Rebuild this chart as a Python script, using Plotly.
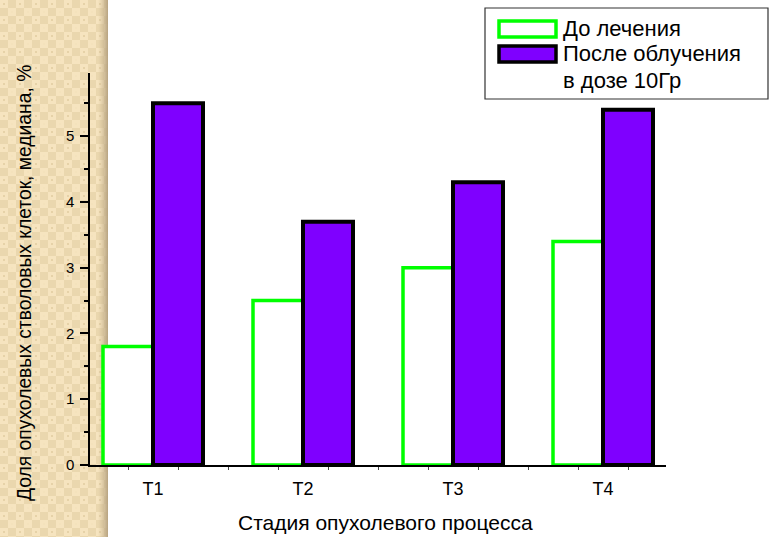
import base64
import plotly.graph_objects as go

# ---- data ----
categories = ["T1", "T2", "T3", "T4"]
before_treatment = [1.8, 2.5, 3.0, 3.4]
after_irradiation = [5.5, 3.7, 4.3, 5.4]
series_names = ["До лечения", "После облучения<br>в дозе 10Гр"]
y_ticks = [0, 1, 2, 3, 4, 5]
x_title = "Стадия опухолевого процесса"
y_title = "Доля опухолевых стволовых клеток, медиана, %"

# ---- geometry helpers (pixel -> paper) ----
W, H = 769, 537
L, R, T, B = 90, 103, 73, 72
PW, PH = W - L - R, H - T - B


def px(x):
    return (x - L) / PW


def py(y):
    return (H - B - y) / PH


GREEN = "#00ff00"
PURPLE = "#7f00ff"
FONT = "Liberation Sans, Arial, sans-serif"

xs = list(range(len(categories)))

fig = go.Figure()
fig.add_trace(go.Bar(
    x=xs, y=before_treatment, name=series_names[0],
    marker=dict(color="white", line=dict(color=GREEN, width=3.5)),
    showlegend=False,
))
fig.add_trace(go.Bar(
    x=xs, y=after_irradiation, name=series_names[1],
    marker=dict(color=PURPLE, line=dict(color="black", width=4)),
    showlegend=False,
))

# textured left strip as an inline SVG image
svg = f"""<svg xmlns='http://www.w3.org/2000/svg' width='108' height='{H}'>
<defs>
<pattern id='p' width='16' height='16' patternUnits='userSpaceOnUse'>
<rect width='16' height='16' fill='#f6e4bf'/>
<rect x='8' width='8' height='8' fill='#ead7ae'/>
<rect y='8' width='8' height='8' fill='#ead7ae'/>
<rect x='3' y='3' width='2' height='2' fill='#e6d2a8'/>
<rect x='11' y='11' width='2' height='2' fill='#f4e2bc'/>
</pattern>
<linearGradient id='g' x1='0' x2='1' y1='0' y2='0'>
<stop offset='0' stop-color='#cdb993' stop-opacity='0'/>
<stop offset='1' stop-color='#b7a381'/>
</linearGradient>
</defs>
<rect width='108' height='{H}' fill='url(#p)'/>
<rect x='98' width='10' height='{H}' fill='url(#g)'/>
</svg>"""
src = "data:image/svg+xml;base64," + base64.b64encode(svg.encode()).decode()
fig.add_layout_image(dict(
    source=src, xref="paper", yref="paper",
    x=px(0), y=py(0), sizex=px(108) - px(0), sizey=py(0) - py(H),
    xanchor="left", yanchor="top", sizing="stretch", layer="below",
))

shapes = []
annotations = []

# legend box (drawn manually to match the wide swatches)
shapes.append(dict(type="rect", xref="paper", yref="paper",
                   x0=px(485), x1=px(768), y0=py(99), y1=py(8),
                   line=dict(color="#333333", width=1.2), fillcolor="white"))
shapes.append(dict(type="rect", xref="paper", yref="paper",
                   x0=px(499), x1=px(556), y0=py(37), y1=py(21),
                   line=dict(color=GREEN, width=3.5), fillcolor="white"))
shapes.append(dict(type="rect", xref="paper", yref="paper",
                   x0=px(499), x1=px(556), y0=py(62), y1=py(46),
                   line=dict(color="black", width=3.5), fillcolor=PURPLE))
legend_lines = [series_names[0]] + series_names[1].split("<br>")
for line_text, yc in zip(legend_lines, [29, 54, 80]):
    annotations.append(dict(text=line_text, xref="paper", yref="paper",
                            x=px(561), y=py(yc), xanchor="left", yanchor="middle",
                            showarrow=False,
                            font=dict(family=FONT, size=22, color="black")))

# axis titles
annotations.append(dict(text=x_title, xref="paper", yref="paper",
                        x=px(385), y=py(522), xanchor="center", yanchor="middle",
                        showarrow=False, font=dict(family=FONT, size=21, color="black")))
annotations.append(dict(text=y_title, xref="paper", yref="paper",
                        x=px(24), y=py(283), xanchor="center", yanchor="middle",
                        textangle=-90, showarrow=False,
                        font=dict(family=FONT, size=19.3, color="black")))

fig.update_layout(
    width=W, height=H,
    margin=dict(l=L, r=R, t=T, b=B, pad=0),
    paper_bgcolor="white", plot_bgcolor="rgba(0,0,0,0)",
    barmode="group", bargap=1 / 3, bargroupgap=0,
    shapes=shapes, annotations=annotations,
    font=dict(family=FONT, color="black"),
)
fig.update_xaxes(
    range=[-0.42, 3.42], tickvals=xs, ticktext=categories,
    showline=True, linecolor="black", linewidth=1.5,
    ticks="", showgrid=False, zeroline=False,
    tickfont=dict(family=FONT, size=18, color="black"), ticklabelstandoff=7,
    minor=dict(ticks="outside", tick0=-1 / 6, dtick=1 / 3, ticklen=3,
               tickcolor="#444444", tickwidth=1, showgrid=False),
)
fig.update_yaxes(
    range=[0, 5.96], tickvals=y_ticks,
    showline=True, linecolor="black", linewidth=1.5,
    ticks="outside", ticklen=8, tickwidth=1.5, tickcolor="black",
    showgrid=False, zeroline=False,
    tickfont=dict(family=FONT, size=15, color="black"), ticklabelstandoff=3,
    minor=dict(ticks="outside", dtick=0.5, ticklen=4, tickwidth=1.5,
               tickcolor="black", showgrid=False),
)

fig.write_html(
    "out.html",
    config={"displayModeBar": False},
    post_script="document.body.style.margin='0';document.body.style.overflow='hidden';",
)
